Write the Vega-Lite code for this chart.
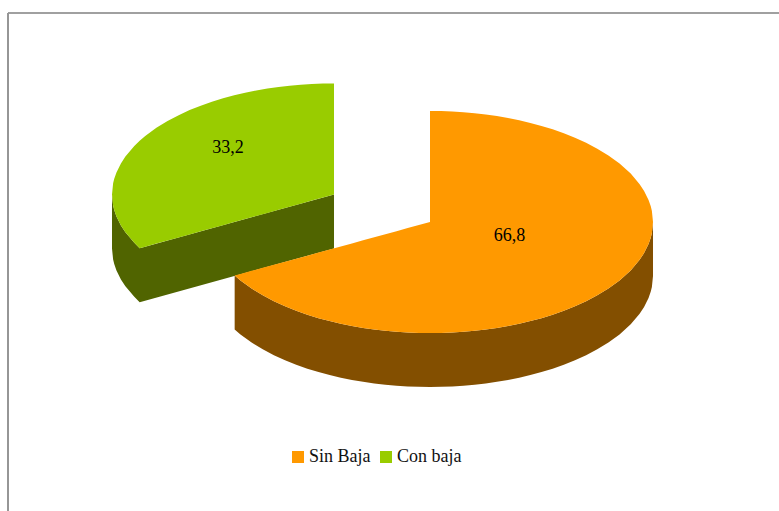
{"$schema":"https://vega.github.io/schema/vega-lite/v6.json","width":771,"height":498,"autosize":{"type":"none"},"padding":{"left":8,"top":13,"right":0,"bottom":0},"background":"white","view":{"stroke":null},"config":{"text":{"font":"Liberation Serif"}},
"datasets":{"pie":[
{"serie":"Con baja","parte":"lado","x":-142.6,"y":24.8,"y2":-23.8},{"serie":"Con baja","parte":"lado","x":-142.1,"y":14.8,"y2":-33.8},{"serie":"Con baja","parte":"lado","x":-141.6,"y":10.7,"y2":-37.9},{"serie":"Con baja","parte":"lado","x":-140.6,"y":4.9,"y2":-43.7},{"serie":"Con baja","parte":"lado","x":-138.6,"y":-3.2,"y2":-51.8},{"serie":"Con baja","parte":"lado","x":-136.6,"y":-9.3,"y2":-57.9},{"serie":"Con baja","parte":"lado","x":-132.6,"y":-18.8,"y2":-67.4},{"serie":"Con baja","parte":"lado","x":-130.2,"y":-23.6,"y2":-72.2},{"serie":"Con baja","parte":"lado","x":-43.05,"y":24.8,"y2":-23.8},
{"serie":"Sin Baja","parte":"lado","x":-87.6,"y":-48.2,"y2":-96.8},{"serie":"Sin Baja","parte":"lado","x":-85,"y":-52.7,"y2":-101.3},{"serie":"Sin Baja","parte":"lado","x":-80,"y":-60,"y2":-108.6},{"serie":"Sin Baja","parte":"lado","x":-75,"y":-66.1,"y2":-114.7},{"serie":"Sin Baja","parte":"lado","x":-70,"y":-71.4,"y2":-120},{"serie":"Sin Baja","parte":"lado","x":-65,"y":-76,"y2":-124.6},{"serie":"Sin Baja","parte":"lado","x":-60,"y":-80,"y2":-128.6},{"serie":"Sin Baja","parte":"lado","x":-55,"y":-83.5,"y2":-132.1},{"serie":"Sin Baja","parte":"lado","x":-50,"y":-86.6,"y2":-135.2},{"serie":"Sin Baja","parte":"lado","x":-45,"y":-89.3,"y2":-137.9},{"serie":"Sin Baja","parte":"lado","x":-40,"y":-91.7,"y2":-140.3},{"serie":"Sin Baja","parte":"lado","x":-35,"y":-93.7,"y2":-142.3},{"serie":"Sin Baja","parte":"lado","x":-30,"y":-95.4,"y2":-144},{"serie":"Sin Baja","parte":"lado","x":-25,"y":-96.8,"y2":-145.4},{"serie":"Sin Baja","parte":"lado","x":-20,"y":-98,"y2":-146.6},{"serie":"Sin Baja","parte":"lado","x":-15,"y":-98.9,"y2":-147.5},{"serie":"Sin Baja","parte":"lado","x":-10,"y":-99.5,"y2":-148.1},{"serie":"Sin Baja","parte":"lado","x":-5,"y":-99.9,"y2":-148.5},{"serie":"Sin Baja","parte":"lado","x":0,"y":-100,"y2":-148.6},{"serie":"Sin Baja","parte":"lado","x":5,"y":-99.9,"y2":-148.5},{"serie":"Sin Baja","parte":"lado","x":10,"y":-99.5,"y2":-148.1},{"serie":"Sin Baja","parte":"lado","x":15,"y":-98.9,"y2":-147.5},{"serie":"Sin Baja","parte":"lado","x":20,"y":-98,"y2":-146.6},{"serie":"Sin Baja","parte":"lado","x":25,"y":-96.8,"y2":-145.4},{"serie":"Sin Baja","parte":"lado","x":30,"y":-95.4,"y2":-144},{"serie":"Sin Baja","parte":"lado","x":35,"y":-93.7,"y2":-142.3},{"serie":"Sin Baja","parte":"lado","x":40,"y":-91.7,"y2":-140.3},{"serie":"Sin Baja","parte":"lado","x":45,"y":-89.3,"y2":-137.9},{"serie":"Sin Baja","parte":"lado","x":50,"y":-86.6,"y2":-135.2},{"serie":"Sin Baja","parte":"lado","x":55,"y":-83.5,"y2":-132.1},{"serie":"Sin Baja","parte":"lado","x":60,"y":-80,"y2":-128.6},{"serie":"Sin Baja","parte":"lado","x":65,"y":-76,"y2":-124.6},{"serie":"Sin Baja","parte":"lado","x":70,"y":-71.4,"y2":-120},{"serie":"Sin Baja","parte":"lado","x":75,"y":-66.1,"y2":-114.7},{"serie":"Sin Baja","parte":"lado","x":80,"y":-60,"y2":-108.6},{"serie":"Sin Baja","parte":"lado","x":85,"y":-52.7,"y2":-101.3},{"serie":"Sin Baja","parte":"lado","x":90,"y":-43.6,"y2":-92.2},{"serie":"Sin Baja","parte":"lado","x":94,"y":-34.1,"y2":-82.7},{"serie":"Sin Baja","parte":"lado","x":96,"y":-28,"y2":-76.6},{"serie":"Sin Baja","parte":"lado","x":98,"y":-19.9,"y2":-68.5},{"serie":"Sin Baja","parte":"lado","x":99,"y":-14.1,"y2":-62.7},{"serie":"Sin Baja","parte":"lado","x":99.5,"y":-10,"y2":-58.6},{"serie":"Sin Baja","parte":"lado","x":100,"y":0,"y2":-48.6},
{"serie":"Con baja","parte":"cara","x":-142.6,"y":24.8,"y2":24.8},{"serie":"Con baja","parte":"cara","x":-142.1,"y":34.8,"y2":14.8},{"serie":"Con baja","parte":"cara","x":-141.6,"y":38.9,"y2":10.7},{"serie":"Con baja","parte":"cara","x":-140.6,"y":44.7,"y2":4.9},{"serie":"Con baja","parte":"cara","x":-138.6,"y":52.8,"y2":-3.2},{"serie":"Con baja","parte":"cara","x":-136.6,"y":58.9,"y2":-9.3},{"serie":"Con baja","parte":"cara","x":-132.6,"y":68.4,"y2":-18.8},{"serie":"Con baja","parte":"cara","x":-130.2,"y":73.2,"y2":-23.6},{"serie":"Con baja","parte":"cara","x":-127.7,"y":77.5,"y2":-22.2},{"serie":"Con baja","parte":"cara","x":-122.7,"y":84.8,"y2":-19.4},{"serie":"Con baja","parte":"cara","x":-117.7,"y":90.9,"y2":-16.7},{"serie":"Con baja","parte":"cara","x":-112.7,"y":96.2,"y2":-13.9},{"serie":"Con baja","parte":"cara","x":-107.8,"y":100.8,"y2":-11.2},{"serie":"Con baja","parte":"cara","x":-102.8,"y":104.8,"y2":-8.4},{"serie":"Con baja","parte":"cara","x":-97.8,"y":108.3,"y2":-5.6},{"serie":"Con baja","parte":"cara","x":-92.8,"y":111.4,"y2":-2.9},{"serie":"Con baja","parte":"cara","x":-87.8,"y":114.1,"y2":-0.1},{"serie":"Con baja","parte":"cara","x":-82.9,"y":116.5,"y2":2.7},{"serie":"Con baja","parte":"cara","x":-77.9,"y":118.5,"y2":5.4},{"serie":"Con baja","parte":"cara","x":-72.9,"y":120.2,"y2":8.2},{"serie":"Con baja","parte":"cara","x":-67.9,"y":121.6,"y2":11},{"serie":"Con baja","parte":"cara","x":-62.96,"y":122.8,"y2":13.7},{"serie":"Con baja","parte":"cara","x":-57.98,"y":123.7,"y2":16.5},{"serie":"Con baja","parte":"cara","x":-53,"y":124.3,"y2":19.3},{"serie":"Con baja","parte":"cara","x":-48,"y":124.7,"y2":22},{"serie":"Con baja","parte":"cara","x":-43.05,"y":124.8,"y2":24.8},
{"serie":"Sin Baja","parte":"cara","x":-87.6,"y":-48.2,"y2":-48.2},{"serie":"Sin Baja","parte":"cara","x":-85,"y":-46.8,"y2":-52.7},{"serie":"Sin Baja","parte":"cara","x":-80,"y":-44,"y2":-60},{"serie":"Sin Baja","parte":"cara","x":-75,"y":-41.3,"y2":-66.1},{"serie":"Sin Baja","parte":"cara","x":-70,"y":-38.5,"y2":-71.4},{"serie":"Sin Baja","parte":"cara","x":-65,"y":-35.8,"y2":-76},{"serie":"Sin Baja","parte":"cara","x":-60,"y":-33,"y2":-80},{"serie":"Sin Baja","parte":"cara","x":-55,"y":-30.3,"y2":-83.5},{"serie":"Sin Baja","parte":"cara","x":-50,"y":-27.5,"y2":-86.6},{"serie":"Sin Baja","parte":"cara","x":-45,"y":-24.8,"y2":-89.3},{"serie":"Sin Baja","parte":"cara","x":-40,"y":-22,"y2":-91.7},{"serie":"Sin Baja","parte":"cara","x":-35,"y":-19.3,"y2":-93.7},{"serie":"Sin Baja","parte":"cara","x":-30,"y":-16.5,"y2":-95.4},{"serie":"Sin Baja","parte":"cara","x":-25,"y":-13.8,"y2":-96.8},{"serie":"Sin Baja","parte":"cara","x":-20,"y":-11,"y2":-98},{"serie":"Sin Baja","parte":"cara","x":-15,"y":-8.3,"y2":-98.9},{"serie":"Sin Baja","parte":"cara","x":-10,"y":-5.5,"y2":-99.5},{"serie":"Sin Baja","parte":"cara","x":-5,"y":-2.8,"y2":-99.9},{"serie":"Sin Baja","parte":"cara","x":0,"y":0,"y2":-100},{"serie":"Sin Baja","parte":"cara","x":0,"y":100,"y2":-100},{"serie":"Sin Baja","parte":"cara","x":5,"y":99.9,"y2":-99.9},{"serie":"Sin Baja","parte":"cara","x":10,"y":99.5,"y2":-99.5},{"serie":"Sin Baja","parte":"cara","x":15,"y":98.9,"y2":-98.9},{"serie":"Sin Baja","parte":"cara","x":20,"y":98,"y2":-98},{"serie":"Sin Baja","parte":"cara","x":25,"y":96.8,"y2":-96.8},{"serie":"Sin Baja","parte":"cara","x":30,"y":95.4,"y2":-95.4},{"serie":"Sin Baja","parte":"cara","x":35,"y":93.7,"y2":-93.7},{"serie":"Sin Baja","parte":"cara","x":40,"y":91.7,"y2":-91.7},{"serie":"Sin Baja","parte":"cara","x":45,"y":89.3,"y2":-89.3},{"serie":"Sin Baja","parte":"cara","x":50,"y":86.6,"y2":-86.6},{"serie":"Sin Baja","parte":"cara","x":55,"y":83.5,"y2":-83.5},{"serie":"Sin Baja","parte":"cara","x":60,"y":80,"y2":-80},{"serie":"Sin Baja","parte":"cara","x":65,"y":76,"y2":-76},{"serie":"Sin Baja","parte":"cara","x":70,"y":71.4,"y2":-71.4},{"serie":"Sin Baja","parte":"cara","x":75,"y":66.1,"y2":-66.1},{"serie":"Sin Baja","parte":"cara","x":80,"y":60,"y2":-60},{"serie":"Sin Baja","parte":"cara","x":85,"y":52.7,"y2":-52.7},{"serie":"Sin Baja","parte":"cara","x":90,"y":43.6,"y2":-43.6},{"serie":"Sin Baja","parte":"cara","x":94,"y":34.1,"y2":-34.1},{"serie":"Sin Baja","parte":"cara","x":96,"y":28,"y2":-28},{"serie":"Sin Baja","parte":"cara","x":98,"y":19.9,"y2":-19.9},{"serie":"Sin Baja","parte":"cara","x":99,"y":14.1,"y2":-14.1},{"serie":"Sin Baja","parte":"cara","x":99.5,"y":10,"y2":-10},{"serie":"Sin Baja","parte":"cara","x":100,"y":0,"y2":0}
],"etiquetas":[{"serie":"Sin Baja","valor":"66,8","x":35.7,"y":-12.6},{"serie":"Con baja","valor":"33,2","x":-90.6,"y":66.7}]},
"data":{"name":"pie"},
"encoding":{
"x":{"field":"x","type":"quantitative","scale":{"domain":[-189.24,156.5],"nice":false,"zero":false},"axis":{"orient":"top","domain":true,"domainColor":"#808080","domainWidth":1.3,"translate":0,"ticks":false,"labels":false,"grid":false,"title":null}},
"y":{"field":"y","type":"quantitative","scale":{"domain":[-260.36,188.29],"nice":false,"zero":false},"axis":{"orient":"left","domain":true,"domainColor":"#969696","domainWidth":2,"translate":0,"ticks":false,"labels":false,"grid":false,"title":null}}},
"layer":[
{"transform":[{"filter":"datum.parte==='lado' && datum.serie==='Con baja'"}],"mark":{"type":"area","color":"#506400"},"encoding":{"y2":{"field":"y2"}}},
{"transform":[{"filter":"datum.parte==='lado' && datum.serie==='Sin Baja'"}],"mark":{"type":"area","color":"#834F00"},"encoding":{"y2":{"field":"y2"}}},
{"transform":[{"filter":"datum.parte==='cara'"}],"mark":{"type":"area"},"encoding":{"y2":{"field":"y2"},"color":{"field":"serie","type":"nominal","scale":{"domain":["Sin Baja","Con baja"],"range":["#FF9900","#99CC00"]},"legend":{"orient":"none","legendX":281,"legendY":435,"direction":"horizontal","columns":2,"title":null,"padding":0,"symbolType":"square","symbolSize":144,"symbolStrokeWidth":0,"labelFont":"Liberation Serif","labelFontSize":18,"labelColor":"#111111","labelOffset":2,"columnPadding":6}}}},
{"data":{"name":"etiquetas"},"mark":{"type":"text","font":"Liberation Serif","fontSize":18,"color":"#000000","baseline":"middle","align":"center"},"encoding":{"text":{"field":"valor"}}}
]}
